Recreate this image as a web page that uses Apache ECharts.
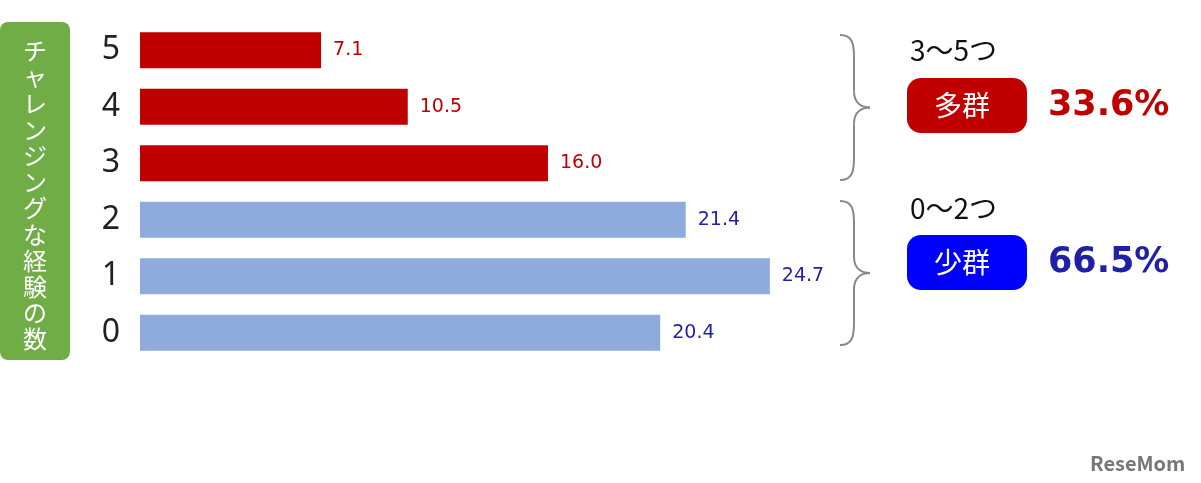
<!DOCTYPE html>
<html>
<head>
<meta charset="utf-8">
<script src="https://cdn.jsdelivr.net/npm/echarts@6/dist/echarts.min.js"></script>
<style>html,body{margin:0;background:#fff}#c{width:1201px;height:483px}</style>
</head>
<body>
<div id="c"></div>
<script>
var categories = ['0', '1', '2', '3', '4', '5'];
var values = [20.4, 24.7, 21.4, 16.0, 10.5, 7.1];
var groupOf = ['low', 'low', 'low', 'high', 'high', 'high'];

var RED = '#c00000';
var BLUE_BAR = '#8faadc';
var BLUE_TXT = '#1f1fa8';
var FONT = '"Noto Sans CJK JP", "Noto Sans", sans-serif';

var chart = echarts.init(document.getElementById('c'));

// 括弧（曲線と直線で組む）
function brace(x, y1, y2) {
  var m = (y1 + y2) / 2;
  var st = { stroke: '#888', lineWidth: 2, fill: null };
  function bz(a, b, c, d) {
    return { type: 'bezierCurve', shape: { x1: a[0], y1: a[1], x2: d[0], y2: d[1], cpx1: b[0], cpy1: b[1], cpx2: c[0], cpy2: c[1] }, style: st };
  }
  function ln(a, b) {
    return { type: 'line', shape: { x1: a[0], y1: a[1], x2: b[0], y2: b[1] }, style: st };
  }
  var xi = x + 14;
  return [
    bz([x, y1], [x + 12, y1], [xi, y1 + 8], [xi, y1 + 22]),
    ln([xi, y1 + 22], [xi, m - 16]),
    bz([xi, m - 16], [xi, m - 4], [x + 22, m], [x + 30, m]),
    bz([x + 30, m], [x + 22, m], [xi, m + 4], [xi, m + 16]),
    ln([xi, m + 16], [xi, y2 - 22]),
    bz([xi, y2 - 22], [xi, y2 - 8], [x + 12, y2], [x, y2])
  ];
}

function txt(x, y, s, fill, font) {
  return { type: 'text', x: x, y: y, style: { text: s, fill: fill, font: font, verticalAlign: 'middle' } };
}

var graphics = [
  { type: 'rect', shape: { x: 0, y: 22, width: 70, height: 338, r: 8 }, style: { fill: '#70ad47' } },
  { type: 'text', x: 23, y: 38, style: { text: 'チャレンジングな経験の数'.split('').join('\n'), fill: '#fff', font: '24px ' + FONT, lineHeight: 26.2 } },
  txt(910, 50, '3～5つ', '#111', '28px ' + FONT),
  { type: 'rect', shape: { x: 907, y: 78, width: 120, height: 55, r: 14 }, style: { fill: RED } },
  txt(934, 105, '多群', '#fff', '28px ' + FONT),
  txt(1048, 106, '33.6%', RED, 'bold 35px "DejaVu Sans", sans-serif'),
  txt(910, 208, '0～2つ', '#111', '28px ' + FONT),
  { type: 'rect', shape: { x: 907, y: 235, width: 120, height: 55, r: 14 }, style: { fill: '#0000ff' } },
  txt(934, 262, '少群', '#fff', '28px ' + FONT),
  txt(1048, 263, '66.5%', BLUE_TXT, 'bold 35px "DejaVu Sans", sans-serif'),
  txt(1090, 463, 'ReseMom', '#777', 'bold 20px ' + FONT)
].concat(brace(840, 35, 180), brace(840, 201, 345));

var option = {
  grid: { left: 140, top: 22, width: 765, height: 339 },
  xAxis: { type: 'value', min: 0, max: 30, show: false },
  yAxis: {
    type: 'category', data: categories,
    axisLine: { show: false }, axisTick: { show: false },
    axisLabel: { fontSize: 32, color: '#222', margin: 20, fontFamily: 'Noto Sans, sans-serif' }
  },
  series: [{
    type: 'bar',
    barWidth: 36,
    data: values.map(function (v, i) {
      var hi = groupOf[i] === 'high';
      return {
        value: v,
        itemStyle: { color: hi ? RED : BLUE_BAR },
        label: { color: hi ? RED : BLUE_TXT }
      };
    }),
    label: {
      show: true, position: 'right', distance: 12, fontSize: 19,
      fontFamily: '"DejaVu Sans", sans-serif',
      formatter: function (p) { return p.value.toFixed(1); }
    }
  }],
  graphic: graphics
};
chart.setOption(option);
</script>
</body>
</html>
